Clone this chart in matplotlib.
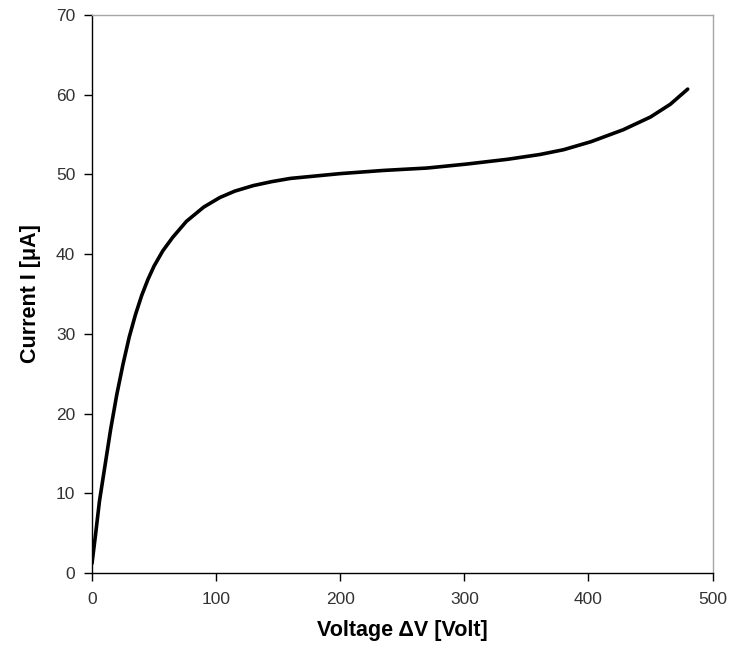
import matplotlib
matplotlib.use('Agg')
from matplotlib import pyplot as plt

# values
voltage = [0, 3, 6, 10, 15, 20, 25, 30, 35, 40, 45, 50, 57, 65, 76, 90, 103, 115,
           130, 145, 160, 180, 200, 235, 270, 302, 335, 361, 380, 402, 428, 450, 466, 480]
current = [1.2, 5.0, 9.0, 13.0, 18.0, 22.4, 26.2, 29.6, 32.4, 34.8, 36.8, 38.5, 40.4, 42.1, 44.1, 45.9, 47.1, 47.9,
           48.6, 49.1, 49.5, 49.8, 50.1, 50.5, 50.8, 51.3, 51.9, 52.5, 53.1, 54.1, 55.6, 57.2, 58.8, 60.7]

x_ticks = [0, 100, 200, 300, 400, 500]
y_ticks = [0, 10, 20, 30, 40, 50, 60, 70]

plt.rcParams['font.family'] = ['Liberation Sans', 'DejaVu Sans']

fig = plt.figure(figsize=(7.29, 6.51), dpi=100)
ax = fig.add_axes([0.1262, 0.1198, 0.8512, 0.8572])

ax.plot(voltage, current, color='black', linewidth=2.6, solid_capstyle='round')

ax.set_xlim(0, 500)
ax.set_ylim(0, 70)
ax.set_xticks(x_ticks)
ax.set_yticks(y_ticks)
ax.tick_params(direction='out', length=6, width=1, color='black', labelsize=12.5,
               labelcolor='#333333')
ax.tick_params(axis='y', pad=6)
ax.tick_params(axis='x', pad=8)

for side in ['top', 'right']:
    ax.spines[side].set_color('#a6a6a6')
    ax.spines[side].set_linewidth(1)
for side in ['left', 'bottom']:
    ax.spines[side].set_color('black')
    ax.spines[side].set_linewidth(1)

ax.set_xlabel('Voltage ΔV [Volt]', fontsize=15.5, fontweight='bold', labelpad=9)
ax.set_ylabel('Current I [μA]', fontsize=15.5, fontweight='bold', labelpad=11)

fig.savefig('out.png', dpi=100)
